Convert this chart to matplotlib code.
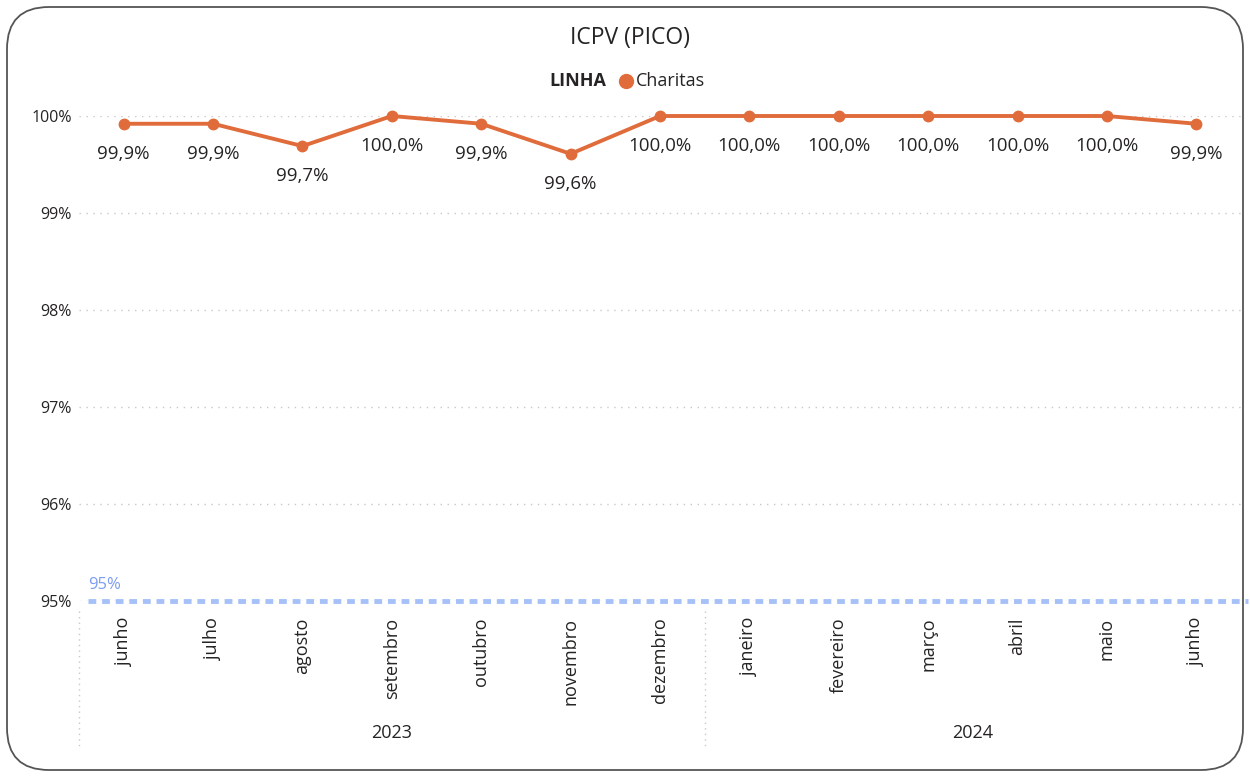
import matplotlib.pyplot as plt
from matplotlib.patches import FancyBboxPatch

plt.rcParams['font.family'] = ['Open Sans', 'DejaVu Sans']

months = ["junho", "julho", "agosto", "setembro", "outubro", "novembro", "dezembro",
          "janeiro", "fevereiro", "março", "abril", "maio", "junho"]
years = ["2023", "2024"]
months_per_year = [7, 6]
charitas = [99.92, 99.92, 99.69, 100.0, 99.92, 99.61, 100.0,
            100.0, 100.0, 100.0, 100.0, 100.0, 99.92]
meta = 95
y_ticks = [95, 96, 97, 98, 99, 100]

orange = "#E06C3C"
txt = "#252423"
W, H = 1250, 776

fig = plt.figure(figsize=(W / 100, H / 100), dpi=100)

# background frame
bg = fig.add_axes([0, 0, 1, 1])
bg.set_xlim(0, W)
bg.set_ylim(H, 0)
bg.axis("off")
bg.add_patch(FancyBboxPatch((7, 7), W - 14, H - 13,
                            boxstyle="round,pad=0,rounding_size=42",
                            fc="white", ec="#555555", lw=1.3))

ax = fig.add_axes([79 / W, (H - 601) / H, 1162 / W, 485 / H])
ax.patch.set_alpha(0)
x = list(range(len(months)))
ax.set_xlim(-0.5, len(months) - 0.5)
ax.set_ylim(95, 100)

for t in y_ticks:
    ax.axhline(t, color="#c8c8c8", lw=1, ls=(0, (1, 4)), zorder=0)
ax.plot([-0.4, len(months) - 0.42], [meta, meta], color="#a6c1f7", lw=3.5,
        ls=(0, (1.6, 1.2)), zorder=1, clip_on=False, solid_capstyle="butt")
ax.text(9 / 1162, meta + 0.08, "95%", transform=ax.get_yaxis_transform(),
        color="#7b9cf2", fontsize=12, ha="left", va="bottom")

ax.plot(x, charitas, color=orange, lw=2.8, marker="o", ms=7.5, zorder=3, clip_on=False)
for xi, v in zip(x, charitas):
    ax.annotate(f"{v:.1f}%".replace(".", ","), (xi, v), xytext=(0, -15),
                textcoords="offset points", ha="center", va="top",
                fontsize=13.5, color=txt)

ax.set_yticks(y_ticks)
ax.set_yticklabels([f"{t}%" for t in y_ticks], fontsize=11.5, color=txt)
ax.set_xticks(x)
ax.set_xticklabels(months, rotation=90, fontsize=13, color=txt, va="top")
ax.tick_params(length=0, pad=5)
ax.tick_params(axis="x", pad=12)
for s in ax.spines.values():
    s.set_visible(False)

# year groups and separators
start = 0
for yr, n in zip(years, months_per_year):
    ax.text(start + (n - 1) / 2, -0.272, yr, transform=ax.get_xaxis_transform(),
            ha="center", va="center", fontsize=13, color=txt)
    ax.plot([start - 0.5, start - 0.5], [-0.02, -0.305], transform=ax.get_xaxis_transform(),
            color="#c8c8c8", lw=1, ls=(0, (1, 3)), clip_on=False)
    start += n

fig.text(630 / W, 1 - 38 / H, "ICPV (PICO)", ha="center", va="center",
         fontsize=16.5, color=txt)
fig.text(606 / W, 1 - 81 / H, "LINHA", ha="right", va="center",
         fontsize=13, fontweight="bold", color=txt)
bg.plot([626], [81], "o", color=orange, ms=10)
fig.text(636 / W, 1 - 81 / H, "Charitas", ha="left", va="center",
         fontsize=13, color=txt)

fig.savefig("out.png", dpi=100)
